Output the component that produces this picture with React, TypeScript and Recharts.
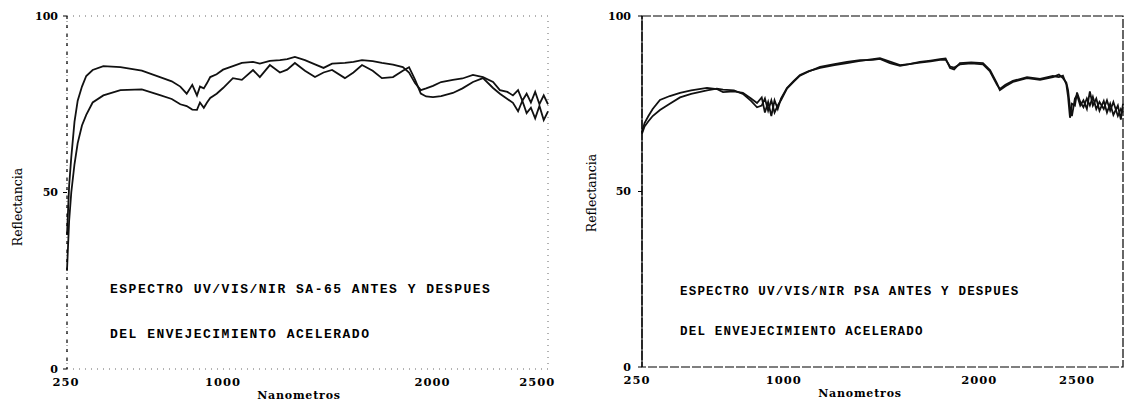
import { LineChart, Line, XAxis, YAxis, ReferenceArea } from 'recharts'

// Espectro SA-65 (izquierda)
const saNm = [
  250, 260, 270, 285, 300, 320, 340, 370, 420, 500,
  600, 685, 740, 780, 810, 836, 858, 872, 890, 905,
  920, 950, 980, 1026, 1068, 1120, 1152, 1199, 1246, 1280,
  1316, 1363, 1410, 1450, 1490, 1550, 1590, 1630, 1680, 1723,
  1775, 1821, 1850, 1878, 1905, 1930, 1962, 2000, 2055, 2100,
  2149, 2196, 2243, 2275, 2310, 2336, 2360, 2380, 2400, 2420,
  2440, 2460, 2480, 2500,
]
const saAntes = [
  38, 52, 60, 70, 76, 80, 83, 84.7, 85.8, 85.5,
  84.5, 82.7, 81.5, 80, 78, 80.5, 77.5, 80, 79.5, 81,
  82.7, 83.5, 84.8, 85.8, 86.7, 87, 86.5, 87.3, 87.5, 87.8,
  88.4, 87.5, 86.3, 85.3, 86.5, 86.7, 87, 87.5, 87.2, 86.7,
  86.2, 85.5, 84, 81, 79, 79.5, 80.2, 81.3, 81.9, 82.3,
  83.3, 82.7, 81.3, 79, 78.5, 77.5, 79, 76, 78, 75.5,
  78.5, 75, 77.5, 75,
]
const saDespues = [
  28, 42, 50, 58, 64, 69, 72, 75.5, 77.5, 79,
  79.2, 77.6, 76.5, 75, 74.5, 73.5, 73.4, 75.5, 74, 75.5,
  76.8, 78, 79.6, 82.4, 81.9, 84.7, 82.7, 86.1, 84, 84.8,
  86.7, 84.5, 82.7, 84, 84.7, 82.4, 84, 86.1, 84.5, 82.4,
  82.7, 84.5, 85.5, 82, 78, 77.2, 77, 77.3, 78.2, 79.5,
  81.3, 82.4, 79.6, 78, 76.5, 75.4, 73, 76, 72.5, 74,
  71, 74.5, 70.5, 73,
]

// Espectro PSA (derecha)
const psaNm = [
  250, 262, 280, 300, 334, 380, 428, 480, 554, 600,
  629, 680, 722, 760, 788, 810, 825, 840, 855, 870,
  885, 900, 928, 960, 989, 1030, 1083, 1150, 1209, 1270,
  1330, 1363, 1410, 1457, 1500, 1550, 1600, 1644, 1670, 1691,
  1710, 1737, 1790, 1845, 1878, 1910, 1924, 1950, 1985, 2051,
  2112, 2172, 2200, 2219, 2235, 2243, 2252, 2261, 2275, 2285,
  2300, 2315, 2331, 2345, 2359, 2375, 2390, 2410, 2425, 2440,
  2455, 2476, 2490, 2500,
]
const psaAntes = [
  66.9, 69.5, 71.5, 73.5, 76.1, 77.2, 78.1, 78.8, 79.5, 79.2,
  78.3, 78.5, 78.1, 76.5, 75.2, 76.8, 72.5, 75.5, 71.5, 76,
  73.5, 76.5, 79.5, 81.5, 83.2, 84.3, 85.2, 86, 86.6, 87.2,
  87.7, 88, 87, 86, 86.3, 86.9, 87.3, 87.7, 87.9, 85.2,
  84.8, 86.6, 86.8, 86.6, 84.6, 80.9, 78.9, 80, 81.2, 82.3,
  81.8, 82.6, 83.3, 82.3, 81, 78.9, 74, 71.5, 76.5, 77.5,
  74.5, 76, 73.5, 78.5, 74.5, 76.5, 73, 75.8, 72.5, 75,
  71.8, 74.5, 70.5, 75,
]
const psaDespues = [
  66.5, 68.5, 70, 71.5, 73.2, 75, 76.8, 77.8, 78.8, 79.3,
  79, 78.8, 77.8, 75.8, 74, 74.5, 76.5, 73, 76, 72.5,
  74.5, 76, 79.3, 81.3, 83, 84.2, 85.5, 86.3, 86.9, 87.4,
  87.5, 87.8, 86.6, 85.8, 86.3, 86.7, 87.1, 87.5, 87.6, 85.6,
  85.3, 86.2, 86.5, 86.2, 84.2, 80.5, 79.2, 80.4, 81.5, 82.6,
  82.1, 82.9, 82.6, 83, 80.5, 77, 71, 75, 74.5, 78.2,
  75.5, 74, 76.5, 74.5, 77, 73.5, 75.5, 73.5, 76, 73,
  75.5, 71.5, 73.5, 72.5,
]

const xTicks = [250, 1000, 2000, 2500]
const yTicks = [0, 50, 100]

const FONT = '"DejaVu Serif", "Liberation Serif", serif'
const MONO = '"Liberation Mono", "DejaVu Sans Mono", monospace'

const toRows = (nm: number[], a: number[], b: number[]) =>
  nm.map((x, i) => ({ nm: x, antes: a[i], despues: b[i] }))

// typed labels in the scan sit a bit left of the true tick positions
function makeTick(plotLeft: number, squeeze: number, nudge: number) {
  return function XTick(props: any) {
    const { x, y, payload } = props
    const tx = plotLeft + nudge + (x - plotLeft) * squeeze
    return (
      <text x={tx} y={y} dy="0.75em" textAnchor="middle" fontFamily={FONT} fontWeight="bold" fontSize={11.5} letterSpacing={1} fill="#000">
        {payload.value}
      </text>
    )
  }
}

interface PanelProps {
  left: number
  width: number
  plotLeft: number
  marginBottom: number
  rows: { nm: number; antes: number; despues: number }[]
  frame: { stroke: string; dash: string; width: number }
  axisDash?: string
  squeeze: number
  nudge: number
  tickMargin: number
  labelY: { x: number; y: number }
  labelX: { x: number; y: number }
  note: { x: number; y1: number; y2: number; text1: string; text2: string; size: number; spacing: number }
}

function Panel(p: PanelProps) {
  const textStyle: React.CSSProperties = {
    position: 'absolute',
    fontFamily: MONO,
    fontWeight: 'bold',
    fontSize: p.note.size,
    lineHeight: '14px',
    color: '#000',
    whiteSpace: 'nowrap',
  }
  return (
    <div style={{ position: 'absolute', left: p.left, top: 0, width: p.width, height: 402 }}>
      <LineChart width={p.width} height={402} data={p.rows} margin={{ top: 16, right: 11, left: 0, bottom: p.marginBottom }}>
        <XAxis
          dataKey="nm"
          type="number"
          domain={[250, 2500]}
          ticks={xTicks}
          axisLine={false}
          tickLine={false}
          height={20}
          tick={makeTick(p.plotLeft, p.squeeze, p.nudge)}
          interval={0}
        />
        <YAxis
          type="number"
          domain={[0, 100]}
          ticks={yTicks}
          width={p.plotLeft}
          tickSize={4}
          tickMargin={p.tickMargin}
          axisLine={{ stroke: '#000', strokeWidth: 1.2, strokeDasharray: p.axisDash }}
          tickLine={{ stroke: '#000' }}
          tick={{ fontFamily: FONT, fontWeight: 'bold', fontSize: 11, fill: '#000' }}
        />
        <ReferenceArea
          x1={250}
          x2={2500}
          y1={0}
          y2={100}
          fill="none"
          stroke={p.frame.stroke}
          strokeWidth={p.frame.width}
          strokeDasharray={p.frame.dash}
          ifOverflow="visible"
        />
        <Line dataKey="antes" type="linear" stroke="#111" strokeWidth={1.8} dot={false} isAnimationActive={false} />
        <Line dataKey="despues" type="linear" stroke="#111" strokeWidth={1.8} dot={false} isAnimationActive={false} />
      </LineChart>
      <div
        style={{
          position: 'absolute',
          left: p.labelY.x - 60,
          top: p.labelY.y - 7,
          width: 120,
          textAlign: 'center',
          transform: 'rotate(-90deg)',
          fontFamily: FONT,
          fontSize: 12.5,
          lineHeight: '14px',
          color: '#000',
        }}
      >
        Reflectancia
      </div>
      <div
        style={{
          position: 'absolute',
          left: p.labelX.x - 60,
          top: p.labelX.y - 7,
          width: 120,
          textAlign: 'center',
          fontFamily: FONT,
          fontWeight: 'bold',
          fontSize: 11,
          letterSpacing: 0.8,
          lineHeight: '14px',
          color: '#000',
        }}
      >
        Nanometros
      </div>
      <div style={{ ...textStyle, left: p.note.x, top: p.note.y1 - 7, letterSpacing: p.note.spacing }}>{p.note.text1}</div>
      <div style={{ ...textStyle, left: p.note.x, top: p.note.y2 - 7, letterSpacing: p.note.spacing }}>{p.note.text2}</div>
    </div>
  )
}

export default function App() {
  return (
    <div style={{ position: 'absolute', left: 0, top: 0, width: 1134, height: 402, background: '#fff', overflow: 'hidden' }}>
      <Panel
        left={0}
        width={559}
        plotLeft={67}
        marginBottom={13}
        rows={toRows(saNm, saAntes, saDespues)}
        frame={{ stroke: '#666', dash: '1 5', width: 1 }}
        axisDash="3 6"
        squeeze={0.98}
        nudge={-1}
        tickMargin={5}
        labelY={{ x: 18, y: 207 }}
        labelX={{ x: 299, y: 396 }}
        note={{
          x: 110,
          y1: 290,
          y2: 335,
          text1: 'ESPECTRO UV/VIS/NIR SA-65 ANTES Y DESPUES',
          text2: 'DEL ENVEJECIMIENTO ACELERADO',
          size: 13,
          spacing: 1.5,
        }}
      />
      <Panel
        left={570}
        width={564}
        plotLeft={72}
        marginBottom={15}
        rows={toRows(psaNm, psaAntes, psaDespues)}
        frame={{ stroke: '#000', dash: '9 2', width: 1.2 }}
        squeeze={0.915}
        nudge={-5}
        tickMargin={7}
        labelY={{ x: 22, y: 193 }}
        labelX={{ x: 290, y: 394 }}
        note={{
          x: 110,
          y1: 292,
          y2: 332,
          text1: 'ESPECTRO UV/VIS/NIR PSA ANTES Y DESPUES',
          text2: 'DEL ENVEJECIMIENTO ACELERADO',
          size: 12.5,
          spacing: 1.2,
        }}
      />
    </div>
  )
}
